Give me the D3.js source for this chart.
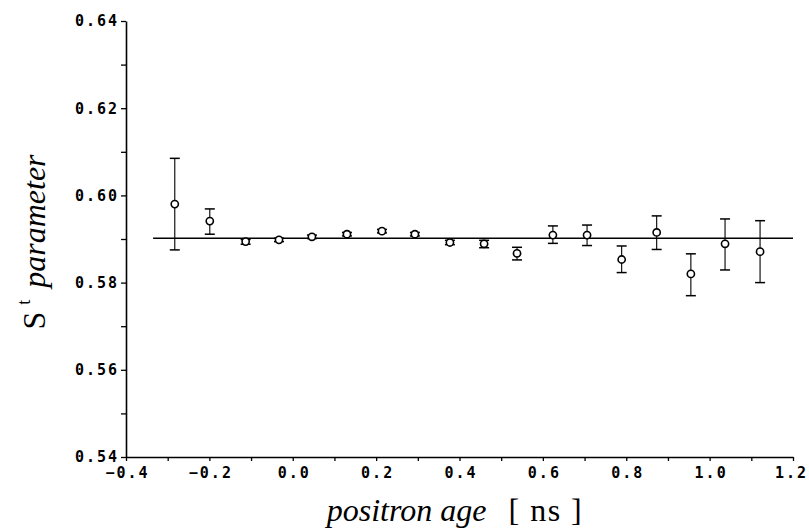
<!DOCTYPE html>
<html>
<head>
<meta charset="utf-8">
<script src="https://cdn.jsdelivr.net/npm/d3@7"></script>
<style>
  html, body { margin: 0; padding: 0; background: #fff; }
  svg { display: block; }
</style>
</head>
<body>
<svg id="chart" width="809" height="528"></svg>
<script>
// Data
const ages   = [-0.283, -0.199, -0.113, -0.033, 0.046, 0.130, 0.214, 0.293, 0.377, 0.459, 0.538, 0.624, 0.706, 0.789, 0.873, 0.955, 1.037, 1.121];
const sValue = [0.5980, 0.5941, 0.5894, 0.5898, 0.5905, 0.5911, 0.5918, 0.5911, 0.5892, 0.5889, 0.5867, 0.5909, 0.5909, 0.5853, 0.5915, 0.5820, 0.5889, 0.5871];
const sHigh  = [0.6085, 0.5969, 0.5899, 0.5902, 0.5909, 0.5915, 0.5922, 0.5915, 0.5897, 0.5897, 0.5881, 0.5930, 0.5932, 0.5884, 0.5953, 0.5866, 0.5946, 0.5942];
const sLow   = [0.5875, 0.5911, 0.5888, 0.5894, 0.5901, 0.5907, 0.5914, 0.5907, 0.5887, 0.5880, 0.5852, 0.5890, 0.5885, 0.5823, 0.5876, 0.5770, 0.5829, 0.5800];
const meanLevel = 0.5902;
const meanFrom  = -0.335;
const meanTo    = 1.2;
const xTickLabels = ["\u22120.4", "\u22120.2", "0.0", "0.2", "0.4", "0.6", "0.8", "1.0", "1.2"];
const xTickValues = [-0.4, -0.2, 0.0, 0.2, 0.4, 0.6, 0.8, 1.0, 1.2];
const yTickValues = [0.54, 0.56, 0.58, 0.60, 0.62, 0.64];

(function () {
const svg = d3.select("#chart");
const mL = 126, mR = 793, mT = 21, mB = 457;

const x = d3.scaleLinear().domain([-0.4, 1.2]).range([mL, mR]);
const y = d3.scaleLinear().domain([0.54, 0.64]).range([mB, mT]);

const tickFont = "'DejaVu Sans Mono', monospace";
const ls = 2;

// X axis
const xAxis = d3.axisBottom(x)
  .tickValues(d3.range(-0.4, 1.2001, 0.1).map(v => +v.toFixed(2)))
  .tickSize(4)
  .tickSizeOuter(0)
  .tickFormat(d => {
    const i = xTickValues.findIndex(v => Math.abs(v - d) < 1e-6);
    return i >= 0 ? xTickLabels[i] : "";
  });
const gx = svg.append("g").attr("transform", `translate(0,${mB})`).call(xAxis);
gx.select(".domain").attr("stroke", "#000").attr("stroke-width", 1.6);
gx.selectAll(".tick line").attr("stroke", "#000").attr("stroke-width", 1.3);
gx.selectAll(".tick text")
  .attr("font-family", tickFont).attr("font-size", 15).attr("font-weight", "bold").attr("fill", "#000")
  .attr("letter-spacing", ls).attr("y", 10).attr("dy", "0.71em").attr("dx", ls / 2);
// keep the last label inside the picture
gx.selectAll(".tick text").filter(d => Math.abs(d - 1.2) < 1e-6).attr("dx", -2);

// Y axis
const yAxis = d3.axisLeft(y)
  .tickValues(d3.range(0.54, 0.6401, 0.01).map(v => +v.toFixed(2)))
  .tickSize(5)
  .tickSizeOuter(0)
  .tickFormat(d => {
    const i = yTickValues.findIndex(v => Math.abs(v - d) < 1e-6);
    return i >= 0 ? d3.format(".2f")(yTickValues[i]) : "";
  });
const gy = svg.append("g").attr("transform", `translate(${mL},0)`).call(yAxis);
gy.select(".domain").attr("stroke", "#000").attr("stroke-width", 1.6);
gy.selectAll(".tick line").attr("stroke", "#000").attr("stroke-width", 1.3);
gy.selectAll(".tick text")
  .attr("font-family", tickFont).attr("font-size", 15).attr("font-weight", "bold").attr("fill", "#000")
  .attr("letter-spacing", ls).attr("x", -9 + ls);

// Mean horizontal line
svg.append("line")
  .attr("x1", x(meanFrom)).attr("x2", x(meanTo))
  .attr("y1", y(meanLevel)).attr("y2", y(meanLevel))
  .attr("stroke", "#000").attr("stroke-width", 1.5);

// Error bars
const pts = ages.map((a, i) => ({ a, v: sValue[i], hi: sHigh[i], lo: sLow[i] }));
const eb = svg.append("g").attr("stroke", "#000").attr("fill", "none");
pts.forEach(d => {
  eb.append("line").attr("x1", x(d.a)).attr("x2", x(d.a))
    .attr("y1", y(d.hi)).attr("y2", y(d.lo)).attr("stroke-width", 1.1);
  [d.hi, d.lo].forEach(v => {
    eb.append("line").attr("x1", x(d.a) - 5).attr("x2", x(d.a) + 5)
      .attr("y1", y(v)).attr("y2", y(v)).attr("stroke-width", 1.5);
  });
});

// Markers
svg.append("g").selectAll("circle").data(pts).join("circle")
  .attr("cx", d => x(d.a)).attr("cy", d => y(d.v)).attr("r", 3.6)
  .attr("fill", "#fff").attr("stroke", "#000").attr("stroke-width", 1.6);

// Y label
const yl = svg.append("text")
  .attr("transform", `translate(45,242) rotate(-90)`)
  .attr("text-anchor", "middle")
  .attr("font-family", "'Liberation Serif', 'Times New Roman', serif")
  .attr("font-size", 32).attr("fill", "#000");
yl.append("tspan").text("S");
yl.append("tspan").attr("font-size", 18).attr("dy", -15).attr("dx", 7).text("t");
yl.append("tspan").attr("dy", 15).attr("dx", 12).attr("font-style", "italic").text("parameter");

// X label
const xl = svg.append("text")
  .attr("x", 455).attr("y", 521)
  .attr("text-anchor", "middle")
  .attr("font-family", "'Liberation Serif', 'Times New Roman', serif")
  .attr("font-size", 32).attr("fill", "#000");
xl.append("tspan").attr("font-style", "italic").text("positron age");
xl.append("tspan").attr("dx", 22).attr("letter-spacing", 1.5).text("[ ns ]");
})();
</script>
</body>
</html>
